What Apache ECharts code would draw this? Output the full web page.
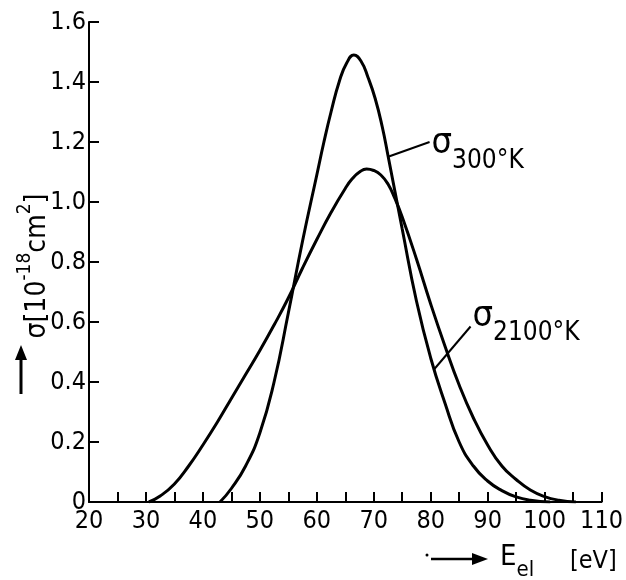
<!DOCTYPE html>
<html>
<head>
<meta charset="utf-8">
<script src="https://cdn.jsdelivr.net/npm/echarts@6/dist/echarts.min.js"></script>
<style>
  html, body { margin: 0; padding: 0; background: #fff; }
  #chart { width: 626px; height: 580px; }
</style>
</head>
<body>
<div id="chart"></div>
<script>
// 300 K curve (narrow, tall)
const energy300 = [43, 45, 47.5, 50, 52.5, 55, 57.5, 60, 61.25, 62.5, 64, 65.25, 66.5, 67.75, 69, 70.25, 71.5, 72.5, 75, 77.5, 80, 82.5, 85, 87.5, 90, 92.5, 95, 97.5, 101]
const sigma300 = [0, 0.045, 0.12, 0.23, 0.4, 0.63, 0.87, 1.09, 1.2, 1.3, 1.405, 1.463, 1.49, 1.47, 1.415, 1.345, 1.25, 1.155, 0.91, 0.67, 0.48, 0.33, 0.2, 0.12, 0.07, 0.038, 0.017, 0.006, 0]
// 2100 K curve (broad, lower)
const energy2100 = [30.5, 32.5, 35, 37.5, 40, 42.5, 45, 47.5, 50, 52.5, 55, 57.5, 60, 62.5, 65, 66.25, 67.5, 68.75, 70, 71.25, 72.5, 73.75, 75, 77.5, 80, 82.5, 85, 87.5, 90, 92.5, 95, 97.5, 100, 102.5, 105.5]
const sigma2100 = [0, 0.02, 0.06, 0.12, 0.19, 0.265, 0.345, 0.425, 0.505, 0.59, 0.68, 0.78, 0.875, 0.965, 1.045, 1.078, 1.1, 1.11, 1.105, 1.09, 1.06, 1.01, 0.95, 0.81, 0.66, 0.52, 0.39, 0.28, 0.19, 0.12, 0.075, 0.04, 0.018, 0.006, 0]
// tick labels
const xTicks = [20, 30, 40, 50, 60, 70, 80, 90, 100, 110]
const yTicks = ['0', '0.2', '0.4', '0.6', '0.8', '1.0', '1.2', '1.4', '1.6']
// leader lines of the curve labels, [energy, sigma]
const leader300 = [[72.4, 1.15], [79.8, 1.2]]
const leader2100 = [[80.5, 0.44], [87.0, 0.585]]

const FONT = '"DejaVu Sans Condensed", "DejaVu Sans", sans-serif'
const zip = (xs, ys) => xs.map((x, i) => [x, ys[i]])

let chart = echarts.init(document.getElementById('chart'))

const leader = pts => ({
    silent: true,
    symbol: 'none',
    label: { show: false },
    lineStyle: { color: '#000', width: 2, type: 'solid' },
    data: [[{ coord: pts[0] }, { coord: pts[1] }]]
})

chart.setOption({
    animation: false,
    backgroundColor: '#fff',
    grid: { left: 89, right: 14, top: 22, bottom: 78 },
    xAxis: {
        type: 'value',
        min: xTicks[0],
        max: xTicks[xTicks.length - 1],
        interval: 10,
        axisLine: { lineStyle: { color: '#000', width: 2 } },
        axisTick: { inside: true, length: 10, lineStyle: { color: '#000', width: 2 } },
        minorTick: { show: true, splitNumber: 2, length: 10, lineStyle: { color: '#000', width: 2 } },
        splitLine: { show: false },
        axisLabel: { color: '#000', fontSize: 25, fontFamily: FONT, margin: 7 }
    },
    yAxis: {
        type: 'value',
        min: 0,
        max: 1.6,
        interval: 0.2,
        axisLine: { show: true, lineStyle: { color: '#000', width: 2 } },
        axisTick: { show: true, inside: true, length: 10, lineStyle: { color: '#000', width: 2 } },
        splitLine: { show: false },
        axisLabel: {
            color: '#000', fontSize: 25, fontFamily: FONT, margin: 3,
            formatter: v => yTicks[Math.round(v / 0.2)]
        }
    },
    series: [
        {
            name: '300K',
            type: 'line',
            data: zip(energy300, sigma300),
            smooth: 0.5,
            showSymbol: false,
            lineStyle: { color: '#000', width: 3 },
            markLine: leader(leader300)
        },
        {
            name: '2100K',
            type: 'line',
            data: zip(energy2100, sigma2100),
            smooth: 0.5,
            showSymbol: false,
            lineStyle: { color: '#000', width: 3 },
            markLine: leader(leader2100)
        }
    ]
})

// curve labels sit at the outer end of each leader line
const p300 = chart.convertToPixel({ gridIndex: 0 }, leader300[1])
const p2100 = chart.convertToPixel({ gridIndex: 0 }, leader2100[1])

const curveLabel = (p, sub, dy) => ({
    type: 'text',
    x: p[0] + 2,
    y: p[1] + dy,
    style: {
        text: '{s|σ}{sub|' + sub + '}',
        fill: '#000',
        rich: {
            s: { fontSize: 36, fontFamily: FONT, verticalAlign: 'top', lineHeight: 48 },
            sub: { fontSize: 26, fontFamily: FONT, verticalAlign: 'bottom', lineHeight: 48 }
        },
        verticalAlign: 'middle'
    }
})

chart.setOption({
    graphic: [
        curveLabel(p300, '300°K', 8),
        curveLabel(p2100, '2100°K', -4),
        // y axis title
        {
            type: 'text',
            x: 34,
            y: 266,
            rotation: Math.PI / 2,
            style: {
                text: '{m|σ[10}{sup|-18}{m|cm}{sup|2}{m|]}',
                align: 'center',
                verticalAlign: 'middle',
                fill: '#000',
                rich: {
                    m: { fontSize: 28, fontFamily: FONT, verticalAlign: 'bottom', lineHeight: 36 },
                    sup: { fontSize: 19, fontFamily: FONT, verticalAlign: 'top', lineHeight: 36 }
                }
            }
        },
        // y arrow
        { type: 'line', shape: { x1: 21, y1: 394, x2: 21, y2: 358 }, style: { stroke: '#000', lineWidth: 3 } },
        { type: 'polygon', shape: { points: [[15, 360], [27, 360], [21, 345]] }, style: { fill: '#000' } },
        // x arrow
        { type: 'circle', shape: { cx: 427, cy: 555, r: 1.5 }, style: { fill: '#000' } },
        { type: 'line', shape: { x1: 431, y1: 559, x2: 474, y2: 559 }, style: { stroke: '#000', lineWidth: 2.5 } },
        { type: 'polygon', shape: { points: [[472, 553], [472, 565], [488, 559]] }, style: { fill: '#000' } },
        // x axis title
        {
            type: 'text',
            x: 500,
            y: 562,
            style: {
                text: '{m|E}{sub|el}',
                verticalAlign: 'middle',
                fill: '#000',
                rich: {
                    m: { fontSize: 29, fontFamily: FONT, verticalAlign: 'top', lineHeight: 38 },
                    sub: { fontSize: 22, fontFamily: FONT, verticalAlign: 'bottom', lineHeight: 38 }
                }
            }
        },
        {
            type: 'text',
            x: 570,
            y: 561,
            style: { text: '[eV]', fontSize: 25, fontFamily: FONT, fill: '#000', verticalAlign: 'middle' }
        }
    ]
})

window.addEventListener('resize', function () {
    chart.resize()
})
</script>
</body>
</html>
